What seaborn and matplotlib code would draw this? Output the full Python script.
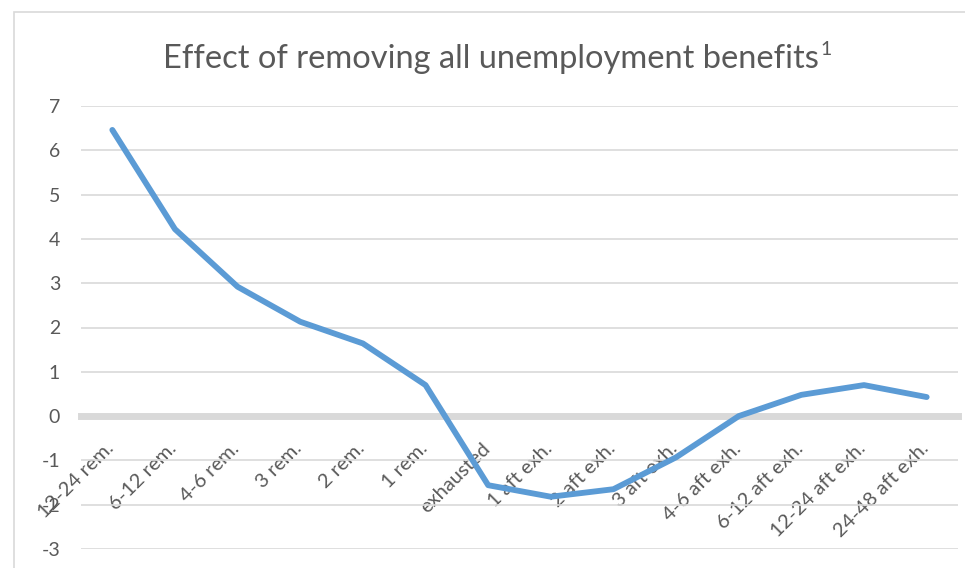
import matplotlib
matplotlib.use("Agg")
import matplotlib.pyplot as plt
from matplotlib.patches import Rectangle
from matplotlib.transforms import ScaledTranslation
import seaborn as sns
import pandas as pd

categories = [
    "12-24 rem.", "6-12 rem.", "4-6 rem.", "3 rem.", "2 rem.", "1 rem.",
    "exhausted", "1 aft exh.", "2 aft exh.", "3 aft exh.", "4-6 aft exh.",
    "6-12 aft exh.", "12-24 aft exh.", "24-48 aft exh.",
]
effect = [6.46, 4.22, 2.92, 2.13, 1.64, 0.70, -1.56, -1.82, -1.65, -0.93,
          0.00, 0.48, 0.70, 0.43]
y_ticks = [-3, -2, -1, 0, 1, 2, 3, 4, 5, 6, 7]

sns.set_theme(style="white")
plt.rcParams["font.family"] = ["Lato", "DejaVu Sans"]

TEXT = "#595959"
GRID = "#d9d9d9"
LINE = "#5b9bd5"

df = pd.DataFrame({"period": categories, "effect": effect})

W, H = 965, 568
fig = plt.figure(figsize=(W / 100, H / 100), dpi=100)
ax = fig.add_axes([81 / W, 1 - 549 / H, (958 - 81) / W, (549 - 106) / H])

sns.lineplot(data=df, x="period", y="effect", ax=ax, color=LINE,
             linewidth=4.2, sort=False, zorder=3)

ax.set_ylim(-3, 7)
ax.set_xlim(-0.5, len(categories) - 0.5)
ax.set_yticks(y_ticks)
ax.set_yticklabels([str(v) for v in y_ticks])
ax.set_xticks(range(len(categories)))
ax.set_xticklabels(categories)
ax.set_xlabel("")
ax.set_ylabel("")

ax.grid(axis="y", color=GRID, linewidth=1.2, zorder=0)
ax.grid(axis="x", visible=False)
for side in ("top", "left", "right"):
    ax.spines[side].set_visible(False)
ax.spines["bottom"].set_position(("data", 0))
ax.spines["bottom"].set_color(GRID)
ax.spines["bottom"].set_linewidth(5)
ax.spines["bottom"].set_zorder(1)

ax.tick_params(axis="y", length=0, pad=15, labelsize=14, labelcolor=TEXT)
ax.tick_params(axis="x", length=0, pad=17, labelsize=14.5, labelcolor=TEXT)

# chart frame
fig.add_artist(Rectangle((13.5 / W, -0.1), 1.2, 1 - 12 / H + 0.1,
                         transform=fig.transFigure, fill=False,
                         edgecolor=GRID, linewidth=1.2, clip_on=False))

title = fig.text(491 / W, 1 - 68 / H, "Effect of removing all unemployment benefits",
                 ha="center", va="baseline", fontsize=23.5, color=TEXT)
fig.canvas.draw()
shift = ScaledTranslation(5 / 100, 0, fig.dpi_scale_trans)
for lab in ax.get_xticklabels():
    lab.set_rotation(45)
    lab.set_ha("right")
    lab.set_transform(lab.get_transform() + shift)
bb = title.get_window_extent()
fig.text((bb.x1 + 2) / W, 1 - 55 / H, "1", ha="left", va="baseline",
         fontsize=14, color=TEXT)

fig.savefig("out.png", dpi=100)
